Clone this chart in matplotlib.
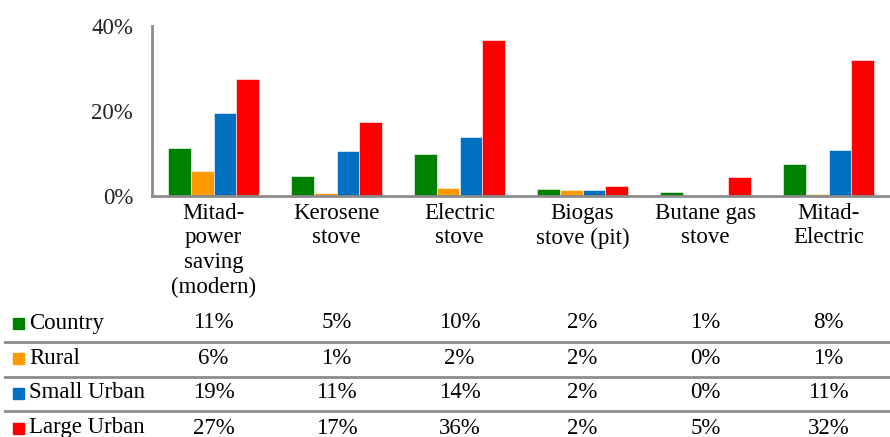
import numpy as np
import matplotlib.pyplot as plt
from matplotlib.patches import Rectangle
from matplotlib.lines import Line2D
import matplotlib.transforms as mtransforms

plt.rcParams['font.family'] = ['Liberation Serif', 'DejaVu Serif']

# Categories and series (percent)
categories = ['Mitad-\npower\nsaving\n(modern)', 'Kerosene\nstove', 'Electric\nstove',
              'Biogas\nstove (pit)', 'Butane gas\nstove', 'Mitad-\nElectric']
series_names = ['Country', 'Rural', 'Small Urban', 'Large Urban']
country = [11.2, 4.8, 9.9, 1.6, 0.9, 7.5]
rural = [6.0, 0.7, 2.0, 1.4, 0.0, 0.5]
small_urban = [19.5, 10.5, 13.8, 1.4, 0.0, 10.8]
large_urban = [27.5, 17.4, 36.6, 2.3, 4.4, 32.1]
table_labels = [['11%', '5%', '10%', '2%', '1%', '8%'],
                ['6%', '1%', '2%', '2%', '0%', '1%'],
                ['19%', '11%', '14%', '2%', '0%', '11%'],
                ['27%', '17%', '36%', '2%', '5%', '32%']]
colors = ['#008000', '#FF9900', '#0070C0', '#FF0000']

W, H = 890, 437
FS = 16.5
fig = plt.figure(figsize=(W / 100, H / 100), dpi=100)
ax = fig.add_axes([152 / W, (H - 196) / H, 738 / W, 170 / H])

x = np.arange(len(categories))
width = 0.183
all_series = [country, rural, small_urban, large_urban]
for i, (vals, c) in enumerate(zip(all_series, colors)):
    ax.bar(x + (i - 1.5) * width, vals, width, color=c, edgecolor='white', linewidth=0.4)

ax.set_xlim(-0.5, len(categories) - 0.5)
ax.set_ylim(0, 40)
ax.set_yticks([0, 20, 40])
ax.set_yticklabels(['0%', '20%', '40%'], fontsize=FS, color='#222222')
ax.tick_params(axis='y', length=0, pad=13.5)
ax.set_xticks(x)
ax.set_xticklabels(categories, fontsize=FS, linespacing=1.22, va='top')
ax.tick_params(axis='x', length=0, pad=5)
for s in ['top', 'right']:
    ax.spines[s].set_visible(False)
for s in ['left', 'bottom']:
    ax.spines[s].set_color('#8c8c8c')
    ax.spines[s].set_linewidth(2)

# Data table below the chart
trans = mtransforms.blended_transform_factory(ax.transData, fig.transFigure)
row_y = [323, 358, 393, 428]
for r, (name, c) in enumerate(zip(series_names, colors)):
    yf = (H - row_y[r]) / H
    fig.add_artist(Rectangle((13 / W, (H - row_y[r] - 6) / H), 11 / W, 11 / H,
                             transform=fig.transFigure, color=c))
    fig.text(29 / W, yf, name, fontsize=FS, va='center', ha='left')
    for j in range(len(categories)):
        ax.text(x[j], yf, table_labels[r][j], transform=trans, fontsize=FS,
                ha='center', va='center')
for ly in [342, 377, 411]:
    fig.add_artist(Line2D([5 / W, 1], [(H - ly) / H] * 2, transform=fig.transFigure,
                          color='#8c8c8c', linewidth=2))

fig.savefig('out.png', dpi=100)
